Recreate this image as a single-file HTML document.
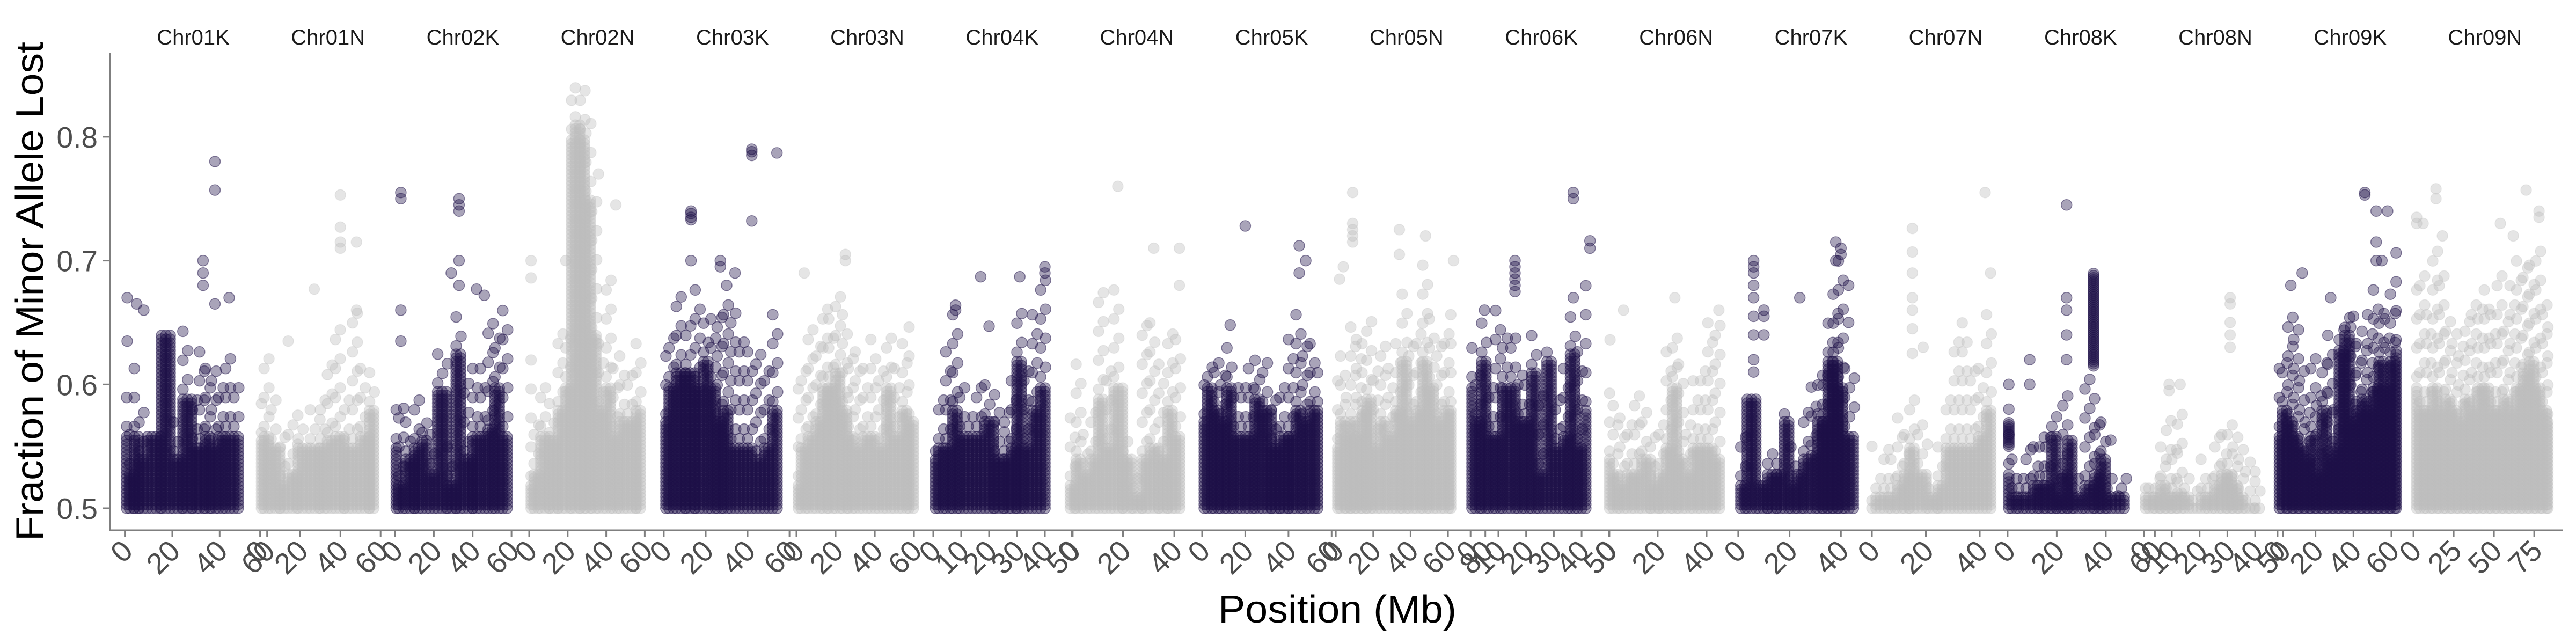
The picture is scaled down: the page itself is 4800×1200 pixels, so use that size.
<!DOCTYPE html>
<html><head><meta charset="utf-8"><style>
html,body{margin:0;padding:0;background:#fff;}
svg{display:block;font-family:"Liberation Sans",Arial,sans-serif;}
</style></head><body>
<svg id="chart" width="4800" height="1200" viewBox="0 0 4800 1200" xmlns="http://www.w3.org/2000/svg">
<g id="points"></g>
<g id="axes"></g>
<text transform="translate(80,543) rotate(-90)" text-anchor="middle" font-size="72" textLength="930" lengthAdjust="spacingAndGlyphs" fill="#000">Fraction of Minor Allele Lost</text>
<text x="2492" y="1160" text-anchor="middle" font-size="72" textLength="444" lengthAdjust="spacingAndGlyphs" fill="#000">Position (Mb)</text>
</svg>
<script>
const chromNames = ["Chr01K","Chr01N","Chr02K","Chr02N","Chr03K","Chr03N","Chr04K","Chr04N","Chr05K","Chr05N","Chr06K","Chr06N","Chr07K","Chr07N","Chr08K","Chr08N","Chr09K","Chr09N"];
const chromStart = [0.77,0.7,0.66,1.0,1.0,2.2,0.8,-0.5,1.4,2.2,1.5,0.3,2.4,2.7,2.6,1.7,3.2,3.1];
const chromEnd = [48.3,56.8,58.7,59.5,54.8,59.7,41.2,43.4,53.6,62.5,42.1,46.4,46.3,44.5,48.5,42.3,62.6,73.1];
const tickVals = [[0,20,40,60],[0,20,40,60],[0,20,40,60],[0,20,40,60],[0,20,40,60],[0,20,40,60],[0,10,20,30,40,50],[0,20,40],[0,20,40,60],[0,20,40,60,80],[0,10,20,30,40,50],[0,20,40],[0,20,40],[0,20,40],[0,20,40,60],[0,10,20,30,40,50],[0,20,40,60],[0,25,50,75]];
const yTicks = [0.5,0.6,0.7,0.8];
const stackPos = [
[1,3,5,7,12,19,22,27,30,33,35,38,41,44,48],
[1,3,8,12,16,22,28,32,35,40,44,48,52,57],
[1,3,8,12,16,20,24,30,33,38,42,46,50,53,58],
[1,4,8,13,17,21,23,25,28,31,34,38,42,45,49,53,58],
[1,4,8,13,17,21,24,27,30,34,38,42,46,50,54],
[1,4,8,12,15,18,22,25,28,32,36,40,44,48,52,56,59],
[1,3,6,8,11,14,17,20,24,27,29,31,34,37,40],
[0.5,3,6,9,12,15,18,22,26,29,32,36,39,42],
[1,4,7,10,13,16,20,23,26,30,34,38,42,45,48,52,55],
[1,4,7,9,13,15,18,22,26,30,34,37,41,45,48,52,56,60,63],
[0.5,3,5,8,10,13,16,18,21,23,26,29,32,35,37,40,43],
[0.5,3,6,9,12,15,19,22,25,27,30,33,36,39,42,45],
[1,6,10,13,17,19,22,24,27,30,32,34,36,38,40,43],
[0,3,6,8,11,13,15,19,23,26,29,32,35,38,41,44],
[0.5,3,6,9,12,14,17,19,21,24,25,29,34,37,39,42],
[0.5,3,5,7,9,11,13,16,19,22,24,27,29,31,33,35,38,42],
[1,4,7,10,13,16,19,22,25,28,31,34,37,40,43,46,49,52,55,58,61,64],
[2,6,10,14,18,22,26,30,34,38,42,46,50,54,58,62,66,70,74,78,82,85]];
const coreTop = [
[.56,.53,.56,.54,.56,.64,.54,.59,.55,.55,.56,.55,.56,.56,.56],
[.555,.56,.55,.52,.53,.55,.55,.55,.555,.56,.55,.55,.56,.58],
[.55,.52,.54,.55,.555,.53,.595,.52,.625,.54,.56,.56,.565,.60,.56],
[.52,.53,.56,.555,.58,.60,.80,.81,.80,.75,.64,.58,.60,.56,.57,.57,.58],
[.57,.60,.61,.61,.60,.62,.60,.57,.58,.55,.55,.55,.54,.55,.58],
[.52,.55,.56,.57,.60,.60,.61,.58,.56,.55,.56,.56,.55,.60,.56,.58,.57],
[.54,.55,.55,.58,.56,.56,.56,.57,.54,.54,.55,.62,.55,.58,.60],
[.52,.54,.53,.54,.59,.55,.60,.54,.51,.54,.55,.54,.58,.56],
[.57,.60,.58,.57,.60,.56,.56,.56,.59,.58,.55,.56,.56,.58,.57,.58,.58],
[.55,.57,.56,.57,.56,.58,.59,.55,.57,.56,.58,.62,.57,.58,.62,.60,.57,.58,.58],
[.60,.57,.62,.56,.56,.60,.60,.57,.57,.61,.53,.62,.55,.56,.625,.55,.58],
[.54,.53,.52,.53,.53,.54,.52,.53,.55,.60,.54,.53,.55,.55,.55,.54],
[.52,.59,.52,.53,.53,.57,.52,.53,.54,.545,.57,.57,.62,.62,.60,.56],
[.50,.51,.51,.51,.52,.53,.55,.53,.51,.52,.55,.55,.55,.55,.56,.58],
[.53,.51,.51,.51,.52,.52,.52,.56,.51,.53,.555,.51,.52,.53,.54,.51],
[.51,.51,.51,.52,.51,.51,.515,.51,.50,.51,.51,.52,.53,.53,.52,.51,.50,.50],
[.56,.58,.57,.56,.55,.54,.56,.53,.58,.54,.55,.63,.64,.57,.58,.59,.58,.60,.62,.60,.62,.63],
[.60,.58,.58,.60,.58,.59,.58,.57,.59,.58,.60,.60,.58,.58,.59,.58,.60,.61,.62,.60,.58,.57]];
const sparseTop = [
[.60,.58,.62,.58,.56,.64,.57,.65,.60,.63,.62,.62,.60,.63,.61],
[.60,.63,.60,.56,.58,.57,.58,.60,.62,.65,.60,.66,.62,.61],
[.59,.59,.57,.60,.58,.56,.63,.55,.66,.61,.62,.62,.65,.65,.66],
[.62,.58,.60,.59,.65,.64,.83,.85,.84,.82,.76,.64,.69,.62,.63,.62,.64],
[.63,.65,.675,.66,.68,.65,.66,.66,.665,.67,.64,.63,.63,.62,.66],
[.60,.62,.65,.64,.67,.66,.68,.66,.63,.63,.62,.64,.62,.65,.62,.64,.65],
[.56,.59,.63,.66,.60,.58,.61,.60,.58,.58,.61,.67,.62,.66,.69],
[.58,.62,.56,.58,.68,.62,.68,.56,.53,.65,.65,.62,.65,.64],
[.60,.62,.62,.62,.63,.60,.60,.62,.62,.62,.60,.61,.64,.66,.64,.64,.61],
[.62,.63,.60,.65,.64,.65,.66,.62,.64,.62,.64,.68,.64,.65,.70,.66,.64,.65,.67],
[.63,.62,.65,.60,.66,.64,.64,.62,.60,.64,.60,.63,.60,.62,.66,.63,.70],
[.60,.59,.58,.57,.60,.58,.56,.58,.63,.65,.62,.58,.61,.62,.65,.66],
[.57,.59,.52,.55,.54,.58,.55,.53,.58,.60,.62,.62,.65,.68,.70,.62],
[.52,.53,.55,.54,.58,.56,.60,.57,.52,.55,.59,.64,.65,.62,.62,.66],
[.57,.54,.53,.55,.55,.57,.56,.58,.53,.60,.56,.53,.61,.58,.57,.53],
[.53,.52,.53,.55,.58,.56,.58,.53,.52,.54,.53,.56,.56,.58,.56,.55,.54,.53],
[.62,.63,.66,.65,.62,.58,.63,.60,.62,.64,.58,.65,.66,.65,.64,.65,.66,.68,.66,.66,.68,.71],
[.68,.70,.66,.72,.70,.66,.65,.64,.66,.67,.67,.68,.66,.70,.66,.68,.70,.70,.70,.71,.67,.66]];
const outlierPos = [
[1,1,33,33,33,38,38,38,44,5,8],
[40,40,40,40,48,48,27,14],
[3,3,3,3,33,33,33,33,33,42,46,29],
[1,1,45,19,36],
[13,13,13,13,13,27,27,30,34,42,42,42,42,54],
[25,25,4],
[8,8,17,20,31,40,40],
[18,32,42,42],
[13,20,45,45,48],
[4,9,9,9,9,9,34,34,48,63,2],
[5,16,16,16,16,16,16,37,37,37,43,43],
[0.5,6,45,27],
[6,6,6,6,6,6,6,6,6,10,10,10,24,38,38,40,40,43,43],
[0,15,15,15,15,15,15,15,19,44,42],
[0.5,0.5,9,9,24,24,24,24,24,42,45],
[9,9,31,31,31,31,31,13],
[7,13,28,40,46,46,52,52,52,55,58],
[2,2,6,14,14,18,54,62,70,78,78]];
const outlierVal = [
[.67,.635,.70,.69,.68,.78,.757,.665,.67,.665,.66],
[.727,.715,.71,.753,.715,.66,.677,.635],
[.755,.75,.66,.635,.75,.745,.74,.70,.68,.677,.672,.69],
[.70,.686,.745,.70,.77],
[.74,.738,.735,.733,.70,.70,.695,.68,.69,.79,.788,.785,.732,.787],
[.705,.70,.69],
[.664,.66,.687,.647,.687,.695,.69],
[.76,.71,.71,.68],
[.648,.728,.712,.69,.70],
[.695,.73,.725,.72,.715,.755,.725,.705,.72,.70,.685],
[.66,.70,.695,.69,.685,.68,.675,.67,.755,.75,.716,.71],
[.636,.66,.66,.67],
[.70,.695,.69,.68,.67,.655,.64,.62,.61,.66,.655,.64,.67,.70,.715,.705,.71,.68,.65],
[.55,.726,.707,.69,.67,.66,.645,.625,.63,.69,.755],
[.58,.60,.62,.60,.67,.66,.64,.745,.62,.555,.51],
[.595,.60,.63,.64,.65,.665,.67,.60],
[.68,.69,.67,.655,.755,.753,.715,.70,.74,.70,.74],
[.73,.735,.73,.75,.758,.72,.73,.72,.757,.74,.735]];
const segPanel = [14,14];
const segPos = [35,0.5];
const segLo = [.615,.55];
const segHi = [.69,.57];

const NS = "http://www.w3.org/2000/svg";
const PANEL_STEP = 251.2, DATA_W = 210;
function panelC0(i){ return 236 + PANEL_STEP*i; }
function xScale(i, mb){ return panelC0(i) + (mb - chromStart[i])/(chromEnd[i]-chromStart[i])*DATA_W; }
function yScale(v){ return 947 - (v-0.5)*2307; }
const colors = ["#1e1048","#bebebe"];
const pts = document.getElementById("points");
const axes = document.getElementById("axes");

function dot(g, x, y){
  const c = document.createElementNS(NS,"circle");
  c.setAttribute("cx", x.toFixed(1)); c.setAttribute("cy", y.toFixed(1)); c.setAttribute("r", 10);
  
  
  g.appendChild(c);
}

chromNames.forEach((name, i) => {
  const g = document.createElementNS(NS,"g");
  
  
  const col = colors[i%2];
  g.setAttribute("fill", col); g.setAttribute("stroke", col);
  g.setAttribute("fill-opacity", i%2 ? "0.4" : "0.38");
  g.setAttribute("stroke-opacity", i%2 ? "0.3" : "0.5");
  g.setAttribute("stroke-width", "1.5");
  pts.appendChild(g);
  const pos = stackPos[i], core = coreTop[i], top = sparseTop[i];
  const xs = pos.map(p => xScale(i,p));
  const y0 = yScale(0.5);
  for (let k=0;k<pos.length;k++){
    const left = k===0 ? Math.min(xs[0], panelC0(i)) : (xs[k-1]+xs[k])/2;
    const right = k===pos.length-1 ? Math.max(xs[k], panelC0(i)+DATA_W) : (xs[k]+xs[k+1])/2;
    const yc = yScale(core[k]), yt = yScale(top[k]);
    for (let x=left; x<=right+0.1; x+=8){
      for (let y=y0; y>=yc; y-=7) dot(g, x, y);
    }
    let row=0;
    for (let y=yc-14; y>=yt; y-=18){
      const off = (row%3)*9;
      for (let x=left+off; x<=right; x+=27) dot(g, x, y);
      row++;
    }
  }
  outlierPos[i].forEach((p, j) => dot(g, xScale(i,p), yScale(outlierVal[i][j])));
  segPanel.forEach((pi, s) => {
    if (pi!==i) return;
    for (let y=yScale(segLo[s]); y>=yScale(segHi[s]); y-=4) dot(g, xScale(i,segPos[s]), y);
  });

  const t = document.createElementNS(NS,"text");
  t.setAttribute("x", (360 + PANEL_STEP*i).toFixed(1)); t.setAttribute("y", 83);
  t.setAttribute("text-anchor","middle"); t.setAttribute("font-size","40"); t.setAttribute("fill","#1a1a1a");
  t.textContent = name;
  
  
  axes.appendChild(t);

  tickVals[i].forEach(v => {
    const x = xScale(i, v);
    const l = document.createElementNS(NS,"line");
    l.setAttribute("x1",x.toFixed(1)); l.setAttribute("x2",x.toFixed(1));
    l.setAttribute("y1",988); l.setAttribute("y2",1001);
    l.setAttribute("stroke","#7f7f7f"); l.setAttribute("stroke-width","3");
    
    
    axes.appendChild(l);
    const tl = document.createElementNS(NS,"text");
    tl.setAttribute("transform","translate("+(x+18).toFixed(1)+",1030) rotate(-45)");
    tl.setAttribute("text-anchor","end"); tl.setAttribute("font-size","55"); tl.setAttribute("fill","#4d4d4d");
    tl.textContent = String(v);
    
    
    axes.appendChild(tl);
  });
});

const yl = document.createElementNS(NS,"line");
yl.setAttribute("x1",205); yl.setAttribute("x2",205); yl.setAttribute("y1",99); yl.setAttribute("y2",989.5);
yl.setAttribute("stroke","#7f7f7f"); yl.setAttribute("stroke-width","3");


axes.appendChild(yl);
const xl = document.createElementNS(NS,"line");
xl.setAttribute("x1",203.5); xl.setAttribute("x2",4776); xl.setAttribute("y1",988); xl.setAttribute("y2",988);
xl.setAttribute("stroke","#7f7f7f"); xl.setAttribute("stroke-width","3");


axes.appendChild(xl);
yTicks.forEach(v => {
  const y = yScale(v);
  const l = document.createElementNS(NS,"line");
  l.setAttribute("x1",191); l.setAttribute("x2",205); l.setAttribute("y1",y); l.setAttribute("y2",y);
  l.setAttribute("stroke","#7f7f7f"); l.setAttribute("stroke-width","3");
  
  
  axes.appendChild(l);
  const t = document.createElementNS(NS,"text");
  t.setAttribute("x",182); t.setAttribute("y",(y+20).toFixed(1));
  t.setAttribute("text-anchor","end"); t.setAttribute("font-size","55"); t.setAttribute("fill","#4d4d4d");
  t.textContent = v.toFixed(1);
  
  
  axes.appendChild(t);
});
</script>
</body></html>
